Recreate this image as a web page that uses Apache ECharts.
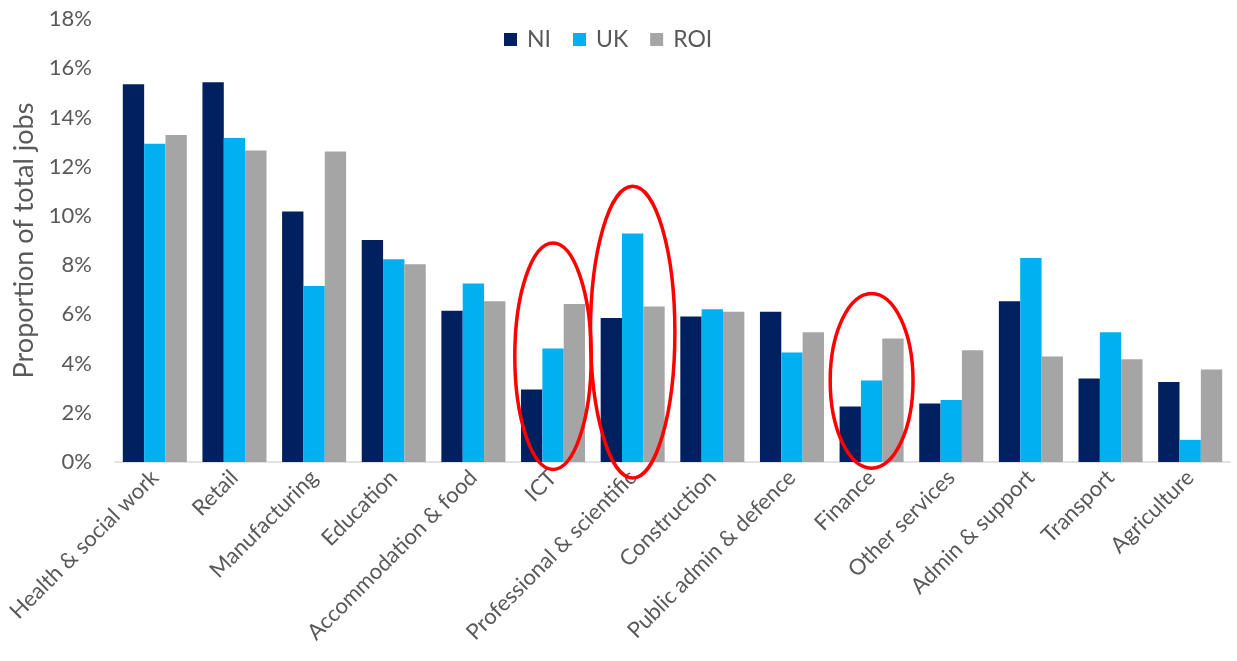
<!DOCTYPE html>
<html>
<head>
<meta charset="utf-8">
<script src="https://cdn.jsdelivr.net/npm/echarts@6/dist/echarts.min.js"></script>
<style>
  html, body { margin: 0; padding: 0; background: #fff; }
  #chart { width: 1237px; height: 661px; }
</style>
</head>
<body>
<div id="chart"></div>
<script>
// Share of total jobs by industry (%)
const categories = [
  'Health & social work', 'Retail', 'Manufacturing', 'Education',
  'Accommodation & food', 'ICT', 'Professional & scientific', 'Construction',
  'Public admin & defence', 'Finance', 'Other services', 'Admin & support',
  'Transport', 'Agriculture'
];
const niValues  = [15.35, 15.43, 10.18, 9.02, 6.15, 2.95, 5.85, 5.91, 6.10, 2.26, 2.38, 6.53, 3.39, 3.25];
const ukValues  = [12.93, 13.16, 7.15, 8.24, 7.25, 4.61, 9.28, 6.21, 4.45, 3.31, 2.52, 8.29, 5.27, 0.90];
const roiValues = [13.29, 12.66, 12.62, 8.03, 6.53, 6.42, 6.32, 6.10, 5.27, 5.02, 4.54, 4.29, 4.18, 3.76];
const yTicks = { min: 0, max: 18, interval: 2 };

// Highlighted industries, circled in red: value span (%) and half-width as a share of a category band
const highlights = [
  { category: 'ICT', low: -0.3, high: 8.9, halfWidth: 0.48 },
  { category: 'Professional & scientific', low: -0.65, high: 11.2, halfWidth: 0.53 },
  { category: 'Finance', low: -0.25, high: 6.85, halfWidth: 0.52 }
];

const FONT = 'Lato, "Open Sans", sans-serif';
const TEXT = '#595959';

const chart = echarts.init(document.getElementById('chart'), null, { renderer: 'canvas' });

const barSeries = (name, data, color) => ({
  name, type: 'bar', data,
  barGap: '0%', barCategoryGap: '19.6%',
  itemStyle: { color },
  emphasis: { disabled: true }
});

chart.setOption({
  animation: false,
  backgroundColor: '#ffffff',
  textStyle: { fontFamily: FONT },
  legend: {
    top: 23, left: 499,
    itemWidth: 13, itemHeight: 13, itemGap: 22,
    icon: 'rect',
    textStyle: { fontFamily: FONT, fontSize: 23, color: TEXT, padding: [0, 0, 0, 5] },
    data: ['NI', 'UK', 'ROI']
  },
  grid: { left: 115, right: 7, top: 19, bottom: 199, containLabel: false },
  xAxis: {
    type: 'category', data: categories,
    axisLine: { lineStyle: { color: '#D9D9D9', width: 1.5 } },
    axisTick: { show: false },
    axisLabel: {
      rotate: 45, interval: 0, margin: 12,
      fontFamily: FONT, fontSize: 22, color: TEXT
    }
  },
  yAxis: {
    type: 'value', min: yTicks.min, max: yTicks.max, interval: yTicks.interval,
    name: 'Proportion of total jobs', nameLocation: 'middle', nameGap: 76,
    nameTextStyle: { fontFamily: FONT, fontSize: 27, color: TEXT },
    axisLine: { show: false }, axisTick: { show: false },
    splitLine: { show: false },
    axisLabel: { formatter: '{value}%', margin: 23, fontFamily: FONT, fontSize: 22, color: TEXT }
  },
  series: [
    barSeries('NI', niValues, '#002060'),
    barSeries('UK', ukValues, '#00B0F0'),
    barSeries('ROI', roiValues, '#A5A5A5')
  ]
});

// Red ellipses around the highlighted industries, placed through the chart's own axes
function drawHighlights() {
  const band = chart.convertToPixel({ gridIndex: 0 }, [1, 0])[0] - chart.convertToPixel({ gridIndex: 0 }, [0, 0])[0];
  const elements = highlights.map((h) => {
    const top = chart.convertToPixel({ gridIndex: 0 }, [h.category, h.high]);
    const bottom = chart.convertToPixel({ gridIndex: 0 }, [h.category, h.low]);
    return {
      type: 'ellipse', z: 100, silent: true,
      shape: { cx: top[0], cy: (top[1] + bottom[1]) / 2, rx: band * h.halfWidth, ry: (bottom[1] - top[1]) / 2 },
      style: { fill: 'none', stroke: '#FF0000', lineWidth: 3.5 }
    };
  });
  chart.setOption({ graphic: elements });
}
drawHighlights();
</script>
</body>
</html>
